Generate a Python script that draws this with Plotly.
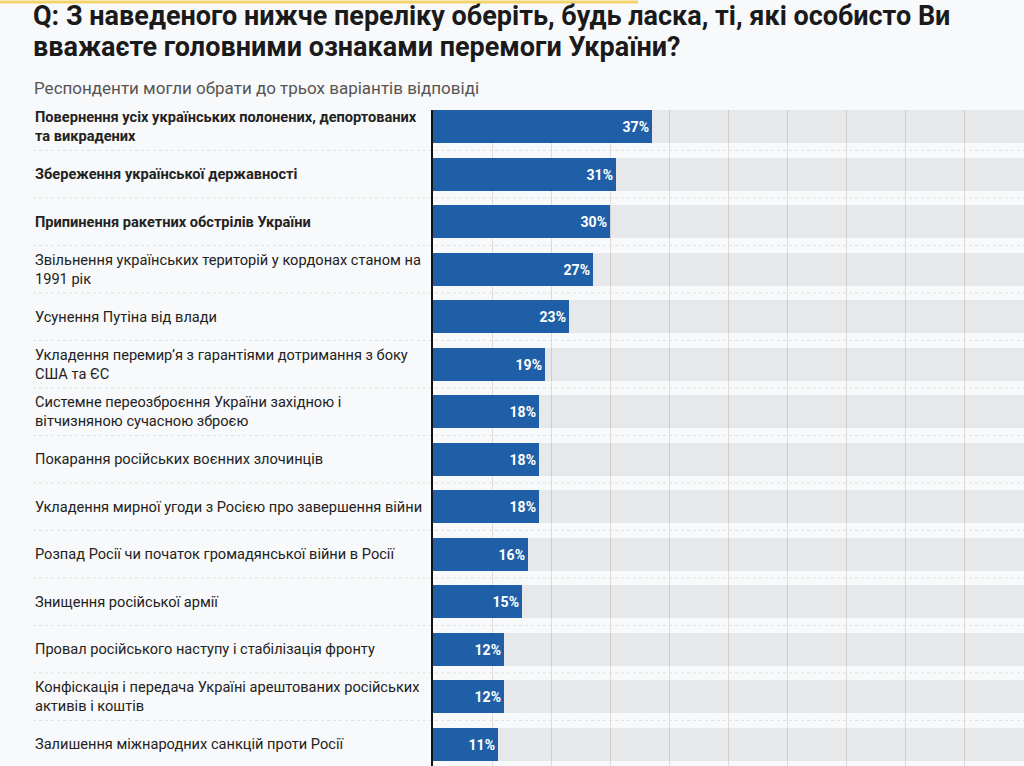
import plotly.graph_objects as go

TITLE_LINES = [
    "Q: З наведеного нижче переліку оберіть, будь ласка, ті, які особисто Ви",
    "вважаєте головними ознаками перемоги України?",
]
SUBTITLE = "Респонденти могли обрати до трьох варіантів відповіді"

LABELS = [
    "Повернення усіх українських полонених, депортованих<br>та викрадених",
    "Збереження української державності",
    "Припинення ракетних обстрілів України",
    "Звільнення українських територій у кордонах станом на<br>1991 рік",
    "Усунення Путіна від влади",
    "Укладення перемир’я з гарантіями дотримання з боку<br>США та ЄС",
    "Системне переозброєння України західною і<br>вітчизняною сучасною зброєю",
    "Покарання російських воєнних злочинців",
    "Укладення мирної угоди з Росією про завершення війни",
    "Розпад Росії чи початок громадянської війни в Росії",
    "Знищення російської армії",
    "Провал російського наступу і стабілізація фронту",
    "Конфіскація і передача Україні арештованих російських<br>активів і коштів",
    "Залишення міжнародних санкцій проти Росії",
]
VALUES = [37, 31, 30, 27, 23, 19, 18, 18, 18, 16, 15, 12, 12, 11]
TOP_BOLD = 3

W, H = 1024, 766
BLUE = "#1f5fa7"
BG = "#f8f9fa"
FONT = "Roboto, Arial, sans-serif"


def px_x(px):
    return px / W


def px_y(py):
    # pixel row from the top -> paper y
    return 1 - py / H


rows = list(range(len(LABELS)))

fig = go.Figure()

# gray track behind every bar (translucent so the grid shows through)
fig.add_trace(go.Bar(
    x=[100] * len(rows), y=rows, orientation="h", width=0.7,
    marker=dict(color="rgba(0,0,0,0.065)", line=dict(width=0)),
    hoverinfo="skip", showlegend=False,
))

fig.add_trace(go.Bar(
    x=VALUES, y=rows, orientation="h", width=0.7,
    marker=dict(color=BLUE, line=dict(width=0)),
    text=[f"<b>{v}%</b>" for v in VALUES],
    textposition="inside", insidetextanchor="end",
    textfont=dict(color="white", size=14, family=FONT),
    showlegend=False,
))

# category labels on the left
for i, lab in enumerate(LABELS):
    txt = f"<b>{lab}</b>" if i < TOP_BOLD else lab
    fig.add_annotation(
        x=px_x(33), xref="paper", y=i, yref="y",
        xanchor="left", yanchor="middle", align="left",
        text=txt, showarrow=False,
        font=dict(size=14.6, color="#222", family=FONT),
    )

# dotted separators between rows
for i in rows[:-1]:
    fig.add_shape(
        type="line", xref="paper", yref="y",
        x0=px_x(33), x1=1, y0=i + 0.5, y1=i + 0.5,
        line=dict(color="#e0e0e0", width=1, dash="dot"),
        layer="below",
    )

# title, subtitle and the yellow strip on top
for k, line in enumerate(TITLE_LINES):
    fig.add_annotation(
        x=px_x(31), xref="paper", y=px_y(16 + 31 * k), yref="paper",
        xanchor="left", yanchor="middle", align="left",
        text=f"<b>{line}</b>", showarrow=False,
        font=dict(size=27, color="#1a1a1a", family=FONT),
    )
fig.add_annotation(
    x=px_x(32), xref="paper", y=px_y(88), yref="paper",
    xanchor="left", yanchor="middle", align="left",
    text=SUBTITLE, showarrow=False,
    font=dict(size=17, color="#555", family=FONT),
)
fig.add_shape(
    type="line", xref="paper", yref="paper",
    x0=0, x1=px_x(638), y0=px_y(2), y1=px_y(2),
    line=dict(color="#f3d46a", width=3),
)

fig.update_layout(
    width=W, height=H,
    margin=dict(l=0, r=0, t=0, b=0),
    paper_bgcolor=BG, plot_bgcolor=BG,
    barmode="overlay", bargap=0,
    font=dict(family=FONT),
    xaxis=dict(
        domain=[px_x(433), 1],
        range=[0, 100], dtick=10, showticklabels=False,
        showgrid=True, gridcolor="#dcdcdc", gridwidth=1,
        zeroline=False, fixedrange=True,
    ),
    yaxis=dict(
        domain=[0, px_y(110)],
        range=[13.46, -0.35], showticklabels=False, showgrid=False,
        zeroline=False, showline=True, linecolor="#111", linewidth=1.5,
        fixedrange=True,
    ),
)

fig.write_html("out.html", config={"displayModeBar": False},
               post_script="document.body.style.margin='0';")
